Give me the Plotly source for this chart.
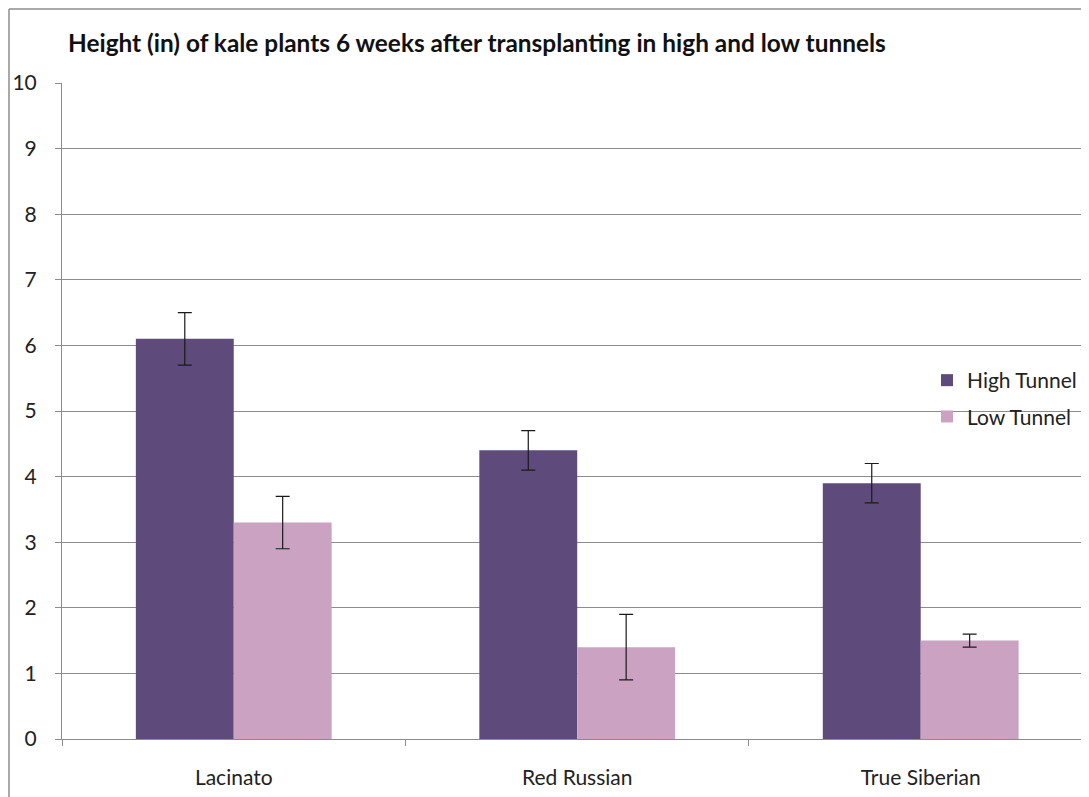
import plotly.graph_objects as go

categories = ["Lacinato", "Red Russian", "True Siberian"]
high_tunnel = [6.1, 4.4, 3.9]
high_err = [0.4, 0.3, 0.3]
low_tunnel = [3.3, 1.4, 1.5]
low_err = [0.4, 0.5, 0.1]
y_ticks = list(range(0, 11))

# page has an 8px body margin; figure coordinates = page coordinates - 8
OFF = 8
W, H = 1089 - OFF, 797 - OFF
L, R, T, B = 62 - OFF, 0, 83 - OFF, 797 - 739
font = "Lato, 'Open Sans', sans-serif"

fig = go.Figure()
fig.add_trace(go.Bar(
    name="High Tunnel", x=categories, y=high_tunnel, legendgroup="a",
    marker=dict(color="#5e4a7b", line=dict(width=0)),
    error_y=dict(type="data", array=high_err, color="#1a1a1a", thickness=1.2, width=7),
))
fig.add_trace(go.Bar(
    name="Low Tunnel", x=categories, y=low_tunnel, legendgroup="b",
    marker=dict(color="#cba2c2", line=dict(width=0)),
    error_y=dict(type="data", array=low_err, color="#1a1a1a", thickness=1.2, width=7),
))

pw = W - L - R
ph = H - T - B
fig.update_layout(
    width=W, height=H,
    margin=dict(l=L, r=R, t=T, b=B, pad=0),
    paper_bgcolor="white", plot_bgcolor="white",
    barmode="group", bargap=0.43, bargroupgap=0,
    font=dict(family=font, size=18, color="#222222"),
    title=dict(text="Height (in) of kale plants 6 weeks after transplanting in high and low tunnels",
               x=(68 - OFF) / W, xanchor="left", y=1 - (43 - OFF) / H, yanchor="middle",
               font=dict(family=font, size=24.4, color="#111111", weight="bold")),
    legend=dict(x=(927 - 62) / pw, y=(739 - 360) / ph, xanchor="left", yanchor="top",
                font=dict(size=21, color="#222222"), bgcolor="rgba(0,0,0,0)",
                itemwidth=30, traceorder="grouped", tracegroupgap=6),
    showlegend=True,
    xaxis=dict(range=[-0.5, 2.49], showgrid=False, showline=True, linecolor="#8c8c8c", linewidth=1,
               ticks="outside", tickson="boundaries", ticklen=6, tickcolor="#8c8c8c",
               tickfont=dict(size=21), ticklabelstandoff=20),
    yaxis=dict(range=[0, 10], tickvals=y_ticks, showgrid=True, gridcolor="#8c8c8c", gridwidth=1,
               showline=True, linecolor="#8c8c8c", linewidth=1, ticks="outside", ticklen=6,
               tickcolor="#8c8c8c", tickfont=dict(size=21), zeroline=False, ticklabelstandoff=14),
)
# outer chart border (left and top)
fig.add_shape(type="line", xref="paper", yref="paper",
              x0=(-L + 1) / pw, x1=(-L + 1) / pw, y0=-B / ph, y1=(ph + T - 1) / ph,
              line=dict(color="#8c8c8c", width=1.5))
fig.add_shape(type="line", xref="paper", yref="paper",
              x0=(-L + 1) / pw, x1=1.0, y0=(ph + T - 1) / ph, y1=(ph + T - 1) / ph,
              line=dict(color="#8c8c8c", width=1.5))

fig.write_html("out.html")
